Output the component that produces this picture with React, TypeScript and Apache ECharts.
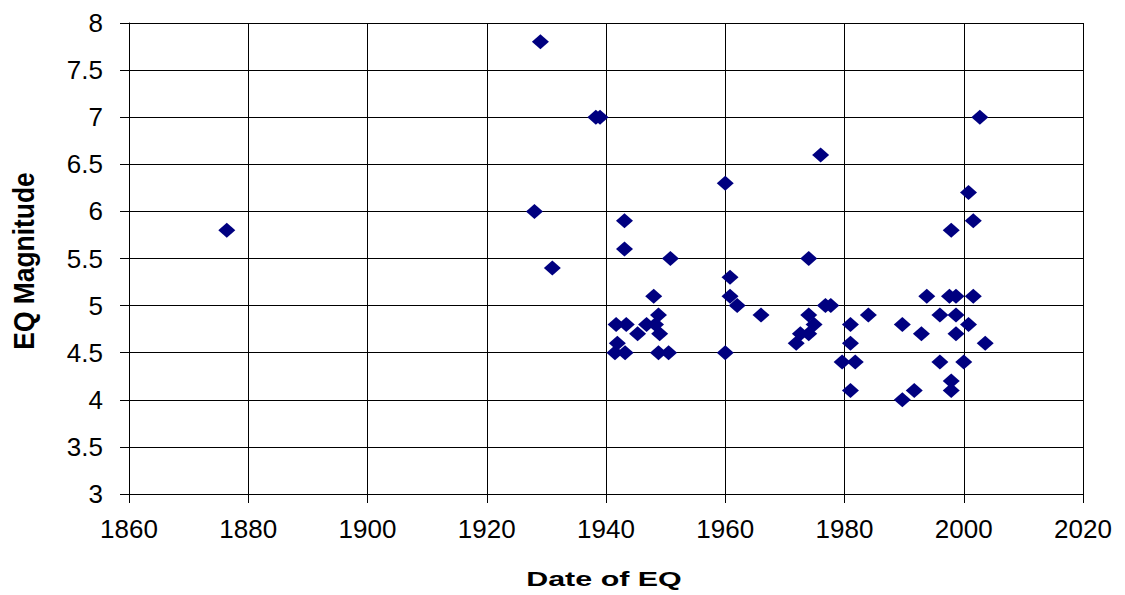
import React, { useEffect, useRef } from "react";
import * as echarts from "echarts";

const years: number[] = [
  1876.4, 1928, 1929, 1931, 1938.3, 1939, 1941.7, 1943.4, 1941.9, 1941.5,
  1943.2, 1943.1, 1943.1, 1945.3, 1946.8, 1948.3, 1948, 1948.8, 1949, 1948.8,
  1950.5, 1950.8, 1960, 1960, 1960.8, 1960.8, 1962, 1966, 1971.9, 1972.6,
  1974, 1974, 1974, 1974.9, 1976, 1976.8, 1977.7, 1979.6, 1981, 1981,
  1981, 1981.8, 1984, 1989.7, 1989.7, 1991.7, 1992.9, 1993.8, 1996, 1996,
  1997.6, 1997.9, 1997.9, 1997.9, 1998.7, 1998.7, 1998.7, 2000, 2000.8, 2000.8,
  2001.6, 2001.6, 2002.7, 2003.6,
];

const magnitudes: number[] = [
  5.8, 6.0, 7.8, 5.4, 7.0, 7.0, 4.8, 4.8, 4.6, 4.5,
  4.5, 5.9, 5.6, 4.7, 4.8, 4.8, 5.1, 4.9, 4.7, 4.5,
  4.5, 5.5, 6.3, 4.5, 5.3, 5.1, 5.0, 4.9, 4.6, 4.7,
  4.7, 4.9, 5.5, 4.8, 6.6, 5.0, 5.0, 4.4, 4.8, 4.6,
  4.1, 4.4, 4.9, 4.8, 4.0, 4.1, 4.7, 5.1, 4.9, 4.4,
  5.1, 5.8, 4.2, 4.1, 5.1, 4.9, 4.7, 4.4, 6.2, 4.8,
  5.9, 5.1, 7.0, 4.6,
];

const xTitle = "Date of EQ";
const yTitle = "EQ Magnitude";

export default function App() {
  const ref = useRef<HTMLDivElement>(null);
  useEffect(() => {
    if (!ref.current) return;
    const chart = echarts.init(ref.current, null, { renderer: "svg" });
    const font = "Liberation Sans, Arial, sans-serif";
    chart.setOption({
      animation: false,
      backgroundColor: "#ffffff",
      grid: { left: 129, top: 23, right: 42, bottom: 101, containLabel: false },
      xAxis: {
        type: "value",
        min: 1860,
        max: 2020,
        interval: 20,
        axisLine: { show: true, onZero: false, lineStyle: { color: "#000", width: 1 } },
        axisTick: { show: true, length: 9, inside: false, lineStyle: { color: "#000" } },
        axisLabel: {
          fontFamily: font,
          fontSize: 26,
          color: "#000",
          margin: 22,
          formatter: (v: number) => String(v),
        },
        splitLine: { show: true, lineStyle: { color: "#000", width: 1 } },
      },
      yAxis: {
        type: "value",
        min: 3,
        max: 8,
        interval: 0.5,
        axisLine: { show: true, onZero: false, lineStyle: { color: "#000", width: 1 } },
        axisTick: { show: true, length: 9, inside: false, lineStyle: { color: "#000" } },
        axisLabel: {
          fontFamily: font,
          fontSize: 26,
          color: "#000",
          margin: 26,
          formatter: (v: number) => String(v),
        },
        splitLine: { show: true, lineStyle: { color: "#000", width: 1 } },
      },
      graphic: [
        {
          type: "text",
          x: 604,
          y: 579,
          scaleX: 1.45,
          style: {
            text: xTitle,
            fontFamily: font,
            fontSize: 21,
            fontWeight: "bold",
            fill: "#000",
            align: "center",
            verticalAlign: "middle",
          },
        },
        {
          type: "text",
          x: 24,
          y: 261,
          rotation: Math.PI / 2,
          scaleX: 1.2,
          scaleY: 1.35,
          style: {
            text: yTitle,
            fontFamily: font,
            fontSize: 22,
            fontWeight: "bold",
            fill: "#000",
            align: "center",
            verticalAlign: "middle",
          },
        },
      ],
      series: [
        {
          type: "scatter",
          symbol: "diamond",
          symbolSize: [17, 15],
          itemStyle: { color: "#000080", opacity: 1 },
          data: years.map((y, i) => [y, magnitudes[i]]),
        },
      ],
    });
    return () => chart.dispose();
  }, []);
  return (
    <div
      ref={ref}
      style={{ position: "absolute", left: 0, top: 0, width: 1125, height: 595 }}
    />
  );
}
